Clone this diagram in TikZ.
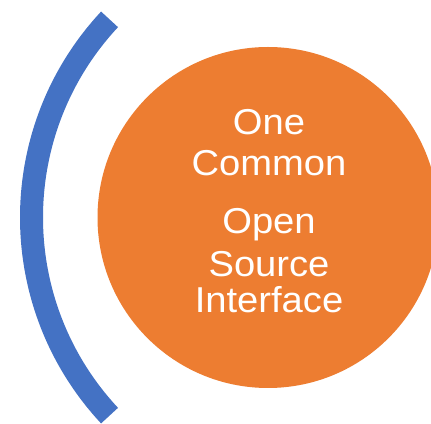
\documentclass[tikz,border=0pt]{standalone}
\usepackage{fontspec}
\newfontfamily\lab[FakeStretch=1.06]{Liberation Sans}
\definecolor{orng}{HTML}{ED7D31}
\definecolor{blu}{HTML}{4472C4}
\begin{document}
\begin{tikzpicture}[x=1pt,y=1pt,
  txt/.style={anchor=base,text=white,inner sep=0pt,font=\lab\fontsize{36}{42}\selectfont}]
\useasboundingbox (0,0) rectangle (431,423);
\clip (0,0) rectangle (431,423);
\fill[white] (0,0) rectangle (431,423);
\node[circle,fill=orng,draw=none,minimum size=341pt,inner sep=0pt] (disc) at (268,205.5) {};
\draw[blu,line width=23pt,line cap=butt] (322,205.5) ++(137:290.5) arc[start angle=137,end angle=223,radius=290.5];
\node[txt] (l1) at (269,288) {One};
\node[txt] (l2) at (269,247) {Common};
\node[txt] (l3) at (269,189) {Open};
\node[txt] (l4) at (269,146) {Source};
\node[txt] (l5) at (269,110) {Interface};
\end{tikzpicture}
\end{document}
